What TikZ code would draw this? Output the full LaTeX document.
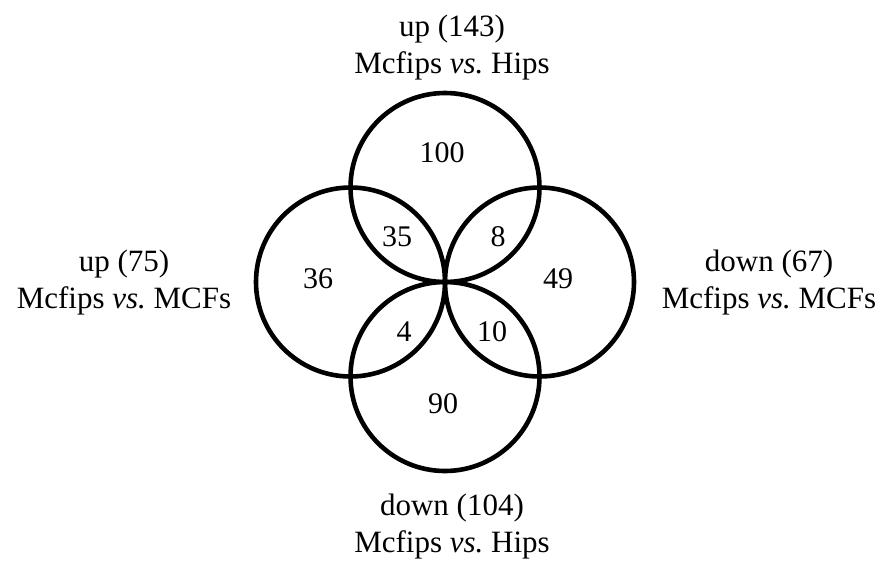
\documentclass[tikz,border=0pt]{standalone}
\usepackage{fontspec}
\setmainfont{Liberation Serif}
\usetikzlibrary{positioning}

\begin{document}
\begin{tikzpicture}[x=1pt, y=-1pt,
    set/.style={circle, draw, line width=4.6pt, minimum size=189pt, inner sep=0pt, outer sep=0pt},
    count/.style={font=\fontsize{30}{36}\selectfont},
    setlabel/.style={align=center, font=\fontsize{31}{37}\selectfont}]

    \useasboundingbox (0,0) rectangle (880,563);

    % the four sets
    \node [set] (upH) at (445,187.5) {};
    \node [set] (downH) at (445,376.5) {};
    \node [set] (upM) at (350.5,282) {};
    \node [set] (downM) at (539.5,282) {};

    % set names
    \node [setlabel] (upHname) at (452,48) {up (143)\\ Mcfips \textit{vs.}\ Hips};
    \node [setlabel] (upMname) at (124,283) {up (75)\\ Mcfips \textit{vs.}\ MCFs};
    \node [setlabel] (downMname) at (769,283) {down (67)\\ Mcfips \textit{vs.}\ MCFs};
    \node [setlabel] (downHname) at (452,527) {down (104)\\ Mcfips \textit{vs.}\ Hips};

    % counts
    \node [count] (nUpH) at (442,153) {100};
    \node [count] (nUpHUpM) at (397,237) {35};
    \node [count] (nUpHDownM) at (498,237) {8};
    \node [count] (nUpM) at (318,279) {36};
    \node [count] (nDownM) at (558,279) {49};
    \node [count] (nDownHUpM) at (404,332) {4};
    \node [count] (nDownHDownM) at (492,332) {10};
    \node [count] (nDownH) at (443,404) {90};

\end{tikzpicture}
\end{document}
